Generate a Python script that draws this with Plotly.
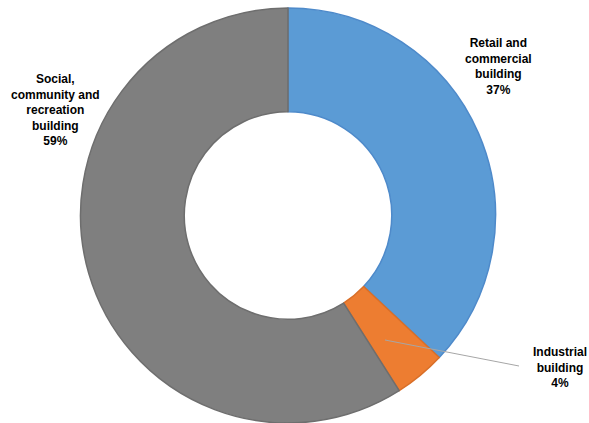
import plotly.graph_objects as go

categories = ["Retail and commercial building", "Industrial building", "Social, community and recreation building"]
values = [37, 4, 59]
label_texts = ["Retail and<br>commercial<br>building<br>37%", "Industrial<br>building<br>4%", "Social,<br>community and<br>recreation<br>building<br>59%"]
colors = ["#5B9BD5", "#ED7D31", "#7F7F7F"]
border_colors = ["#4E8ACA", "#D96F28", "#6E6E6E"]

W, H = 589, 423

fig = go.Figure(go.Pie(
    labels=categories,
    values=values,
    hole=0.5,
    sort=False,
    direction="clockwise",
    rotation=0,
    textinfo="none",
    marker=dict(colors=colors, line=dict(color=border_colors, width=1.5)),
    domain=dict(x=[80.5 / W, 495.5 / W], y=[0, 415 / H]),
    showlegend=False,
))

label_pos = [(498, 66), (560, 367), (55, 110)]
for txt, (px, py) in zip(label_texts, label_pos):
    fig.add_annotation(
        x=px / W, y=1 - py / H, xref="paper", yref="paper",
        text="<b>" + txt + "</b>", showarrow=False,
        font=dict(family="Liberation Sans, Arial", size=12, color="#000000"),
        align="center", xanchor="center", yanchor="middle",
    )

fig.add_shape(type="line", xref="paper", yref="paper",
              x0=385 / W, y0=1 - 340 / H, x1=519 / W, y1=1 - 366 / H,
              line=dict(color="#A6A6A6", width=1))

fig.update_layout(
    width=W, height=H,
    margin=dict(l=0, r=0, t=0, b=0),
    paper_bgcolor="white", plot_bgcolor="white",
)

fig.write_html("out.html")
